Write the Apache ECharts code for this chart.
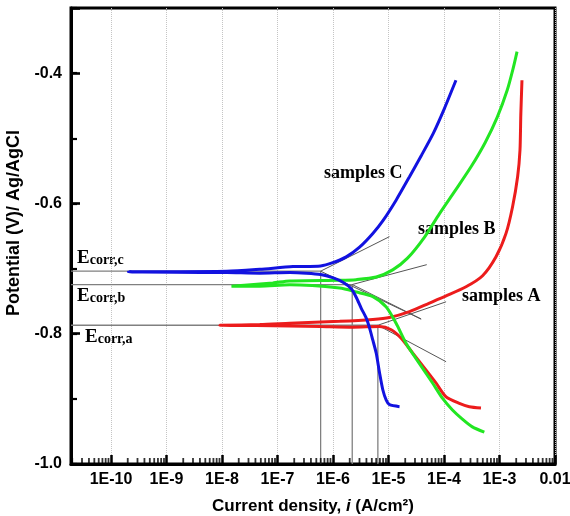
<!DOCTYPE html>
<html>
<head>
<meta charset="utf-8">
<script src="https://cdn.jsdelivr.net/npm/echarts@6/dist/echarts.min.js"></script>
<style>
html,body{margin:0;padding:0;background:#fff;}
#chart{width:570px;height:516px;}
</style>
</head>
<body>
<div id="chart"></div>
<script>
// ---- axis ranges ----
const xMin = 1.9e-11, xMax = 0.01;
const yMin = -1.0, yMax = -0.3;
const yTickLabels = ['-1.0', '-0.8', '-0.6', '-0.4'];
const minorMultipliers = [2, 3, 4, 5, 6, 7, 8, 9];
const minorDecades = [-11, -10, -9, -8, -7, -6, -5, -4, -3];

// ---- samples C (blue): cathodic tail -> Ecorr tip -> anodic branch ----
const blueI = [1.58e-5, 1.04e-5, 9.1e-6, 7.89e-6, 6.89e-6, 6.01e-6, 5.22e-6, 4.55e-6, 3.97e-6, 3.23e-6, 2.62e-6, 2.13e-6, 1.51e-6, 9.84e-7, 5.98e-7, 3.31e-7, 1.66e-7, 4.79e-8, 1.22e-8, 2.05e-10, 1.22e-8, 4.79e-8, 1.9e-7, 5.98e-7, 9.9e-7, 1.73e-6, 3.01e-6, 5.22e-6, 8.0e-6, 1.37e-5, 2.39e-5, 3.93e-5, 6.44e-5, 1.02e-4, 1.64e-4];
const blueE = [-0.912, -0.909, -0.902, -0.886, -0.860, -0.830, -0.810, -0.791, -0.776, -0.761, -0.744, -0.731, -0.721, -0.714, -0.709, -0.707, -0.706, -0.707, -0.706, -0.705, -0.704, -0.701, -0.697, -0.696, -0.691, -0.682, -0.667, -0.646, -0.626, -0.595, -0.559, -0.526, -0.492, -0.454, -0.411];

// ---- samples B (green) ----
const greenI = [5.33e-4, 3.24e-4, 2.14e-4, 1.42e-4, 9.35e-5, 6.26e-5, 3.61e-5, 2.08e-5, 1.37e-5, 9.1e-6, 5.22e-6, 2.62e-6, 1.32e-6, 1.66e-7, 4.79e-8, 1.48e-8, 8.2e-8, 1.66e-7, 1.32e-6, 2.62e-6, 6.01e-6, 1.19e-5, 2.20e-5, 4.43e-5, 8.26e-5, 1.60e-4, 3.11e-4, 5.56e-4, 9.12e-4, 1.38e-3, 1.77e-3, 2.07e-3];
const greenE = [-0.951, -0.943, -0.931, -0.917, -0.899, -0.876, -0.846, -0.815, -0.784, -0.759, -0.743, -0.736, -0.730, -0.725, -0.727, -0.727, -0.722, -0.719, -0.718, -0.717, -0.713, -0.702, -0.684, -0.652, -0.616, -0.580, -0.543, -0.506, -0.4675, -0.426, -0.392, -0.367];

// ---- samples A (red) ----
const redI = [4.64e-4, 2.86e-4, 1.89e-4, 1.09e-4, 7.21e-5, 4.76e-5, 2.74e-5, 1.69e-5, 1.12e-5, 6.89e-6, 2.28e-6, 5.98e-7, 1.66e-7, 9.1e-9, 4.79e-8, 1.66e-7, 1.32e-6, 5.22e-6, 1.04e-5, 2.39e-5, 5.46e-5, 1.09e-4, 2.49e-4, 4.96e-4, 8.65e-4, 1.31e-3, 1.72e-3, 2.12e-3, 2.34e-3, 2.42e-3, 2.54e-3];
const redE = [-0.914, -0.912, -0.907, -0.897, -0.876, -0.856, -0.830, -0.807, -0.794, -0.789, -0.790, -0.789, -0.788, -0.787, -0.786, -0.784, -0.781, -0.778, -0.775, -0.766, -0.753, -0.742, -0.728, -0.711, -0.682, -0.646, -0.605, -0.559, -0.518, -0.464, -0.411];

// ---- Tafel extrapolation: corrosion points [icorr, Ecorr] ----
const corrC = [5.98e-7, -0.704];
const corrB = [2.22e-6, -0.7245];
const corrA = [6.43e-6, -0.787];
// tangent line ends [i, E]
const tafelC = [[1.04e-5, -0.651], [3.87e-5, -0.7775]];
const tafelB = [[4.89e-5, -0.694], [3.87e-5, -0.7775]];
const tafelA = [[1.09e-4, -0.751], [1.09e-4, -0.843]];

const SANS = '"Liberation Sans", Arial, sans-serif';
const SERIF = '"Liberation Serif", "Times New Roman", serif';

function zip(a, b) { return a.map((v, k) => [v, b[k]]); }

const minorTickValues = [];
minorDecades.forEach(d => minorMultipliers.forEach(m => {
  const v = m * Math.pow(10, d);
  if (v > xMin && v < xMax) minorTickValues.push([v, yMin]);
}));

function guide(p) { return [[xMin, p[1]], [p[0], p[1]], [p[0], yMin]]; }
function tafel(p, t) { return [t[0], p, t[1]]; }

const guideStyle = { color: '#808080', width: 1.3 };
const tafelStyle = { color: '#555555', width: 1 };

const series = [
  { type: 'line', data: guide(corrC), symbol: 'none', lineStyle: guideStyle, silent: true },
  { type: 'line', data: guide(corrB), symbol: 'none', lineStyle: guideStyle, silent: true },
  { type: 'line', data: guide(corrA), symbol: 'none', lineStyle: guideStyle, silent: true },
  { type: 'line', data: tafel(corrC, tafelC), symbol: 'none', lineStyle: tafelStyle, silent: true },
  { type: 'line', data: tafel(corrB, tafelB), symbol: 'none', lineStyle: tafelStyle, silent: true },
  { type: 'line', data: tafel(corrA, tafelA), symbol: 'none', lineStyle: tafelStyle, silent: true },
  { name: 'samples A', type: 'line', data: zip(redI, redE), symbol: 'none', smooth: 0.25,
    lineStyle: { color: '#ec1c1c', width: 3 } },
  { name: 'samples B', type: 'line', data: zip(greenI, greenE), symbol: 'none', smooth: 0.25,
    lineStyle: { color: '#22e622', width: 3 } },
  { name: 'samples C', type: 'line', data: zip(blueI, blueE), symbol: 'none', smooth: 0.25,
    lineStyle: { color: '#1212e0', width: 3 } },
  { type: 'scatter', data: minorTickValues, silent: true, clip: false, z: 5,
    symbol: 'rect', symbolSize: [1.8, 6], symbolOffset: [0, -3],
    itemStyle: { color: '#000' } }
];

const chart = echarts.init(document.getElementById('chart'), null, { renderer: 'canvas' });
chart.setOption({
  animation: false,
  backgroundColor: '#ffffff',
  grid: { left: 71, right: 15, top: 8, bottom: 52, show: true, borderColor: '#000',
    borderWidth: 3, outerBoundsMode: 'none' },
  xAxis: {
    type: 'log', logBase: 10, min: xMin, max: xMax,
    name: '{a|Current density, }{b|i}{a| (A/cm\u00b2)}',
    nameLocation: 'middle', nameGap: 34,
    nameTextStyle: {
      rich: {
        a: { fontSize: 17, fontWeight: 'bold', fontFamily: SANS, color: '#000' },
        b: { fontSize: 17, fontWeight: 'bold', fontStyle: 'italic', fontFamily: SANS, color: '#000' }
      }
    },
    axisLine: { lineStyle: { color: '#000', width: 3 } },
    axisTick: { show: true, inside: true, length: 9, lineStyle: { color: '#000', width: 2.5 } },
    axisLabel: {
      margin: 8, color: '#000', fontSize: 16, fontWeight: 'bold', fontFamily: SANS,
      formatter: function (v) {
        const lg = Math.log10(v), e = Math.round(lg);
        if (Math.abs(lg - e) > 0.01) return '';
        if (e === -2) return '0.01';
        return '1E' + e;
      }
    },
    splitLine: { show: true, lineStyle: { color: '#c4c4c4', type: 'dotted', width: 1 } }
  },
  yAxis: [
    {
      type: 'value', min: yMin, max: yMax, interval: 0.1, position: 'left',
      name: 'Potential (V)/ Ag/AgCl', nameLocation: 'middle', nameGap: 42,
      nameTextStyle: { fontSize: 18, fontWeight: 'bold', fontFamily: SANS, color: '#000', padding: [0, 0, 0, 26] },
      axisLine: { lineStyle: { color: '#000', width: 3 } },
      axisTick: { inside: true, length: 6, lineStyle: { color: '#000', width: 2.2 } },
      axisLabel: {
        margin: 9, color: '#000', fontSize: 16, fontWeight: 'bold', fontFamily: SANS,
        formatter: function (v) {
          const s = v.toFixed(1);
          return yTickLabels.indexOf(s) >= 0 ? s : '';
        }
      },
      splitLine: { show: false }
    },
    {
      type: 'value', min: yMin, max: yMax, interval: 0.2, position: 'left',
      axisLine: { show: false },
      axisTick: { inside: true, length: 9, lineStyle: { color: '#000', width: 2.6 } },
      axisLabel: { show: false },
      splitLine: { show: false }
    }
  ],
  graphic: [
    { type: 'text', x: 324, y: 173, style: { text: 'samples C', fill: '#000', fontSize: 18, fontWeight: 'bold', fontFamily: SERIF, verticalAlign: 'middle' } },
    { type: 'text', x: 418, y: 229, style: { text: 'samples B', fill: '#000', fontSize: 18, fontWeight: 'bold', fontFamily: SERIF, verticalAlign: 'middle' } },
    { type: 'text', x: 462, y: 296, style: { text: 'samples A', fill: '#000', fontSize: 18, fontWeight: 'bold', fontFamily: SERIF, verticalAlign: 'middle' } },
    { type: 'text', x: 77, y: 258, style: { text: '{e|E}{s|corr,c}', verticalAlign: 'middle',
      rich: { e: { fontSize: 19, fontWeight: 'bold', fontFamily: SERIF, fill: '#000', color: '#000', verticalAlign: 'bottom' },
              s: { fontSize: 14, fontWeight: 'bold', fontFamily: SERIF, fill: '#000', color: '#000', verticalAlign: 'bottom' } } } },
    { type: 'text', x: 77, y: 296, style: { text: '{e|E}{s|corr,b}', verticalAlign: 'middle',
      rich: { e: { fontSize: 19, fontWeight: 'bold', fontFamily: SERIF, fill: '#000', color: '#000', verticalAlign: 'bottom' },
              s: { fontSize: 14, fontWeight: 'bold', fontFamily: SERIF, fill: '#000', color: '#000', verticalAlign: 'bottom' } } } },
    { type: 'text', x: 85, y: 337, style: { text: '{e|E}{s|corr,a}', verticalAlign: 'middle',
      rich: { e: { fontSize: 19, fontWeight: 'bold', fontFamily: SERIF, fill: '#000', color: '#000', verticalAlign: 'bottom' },
              s: { fontSize: 14, fontWeight: 'bold', fontFamily: SERIF, fill: '#000', color: '#000', verticalAlign: 'bottom' } } } }
  ],
  series: series
});
</script>
</body>
</html>
